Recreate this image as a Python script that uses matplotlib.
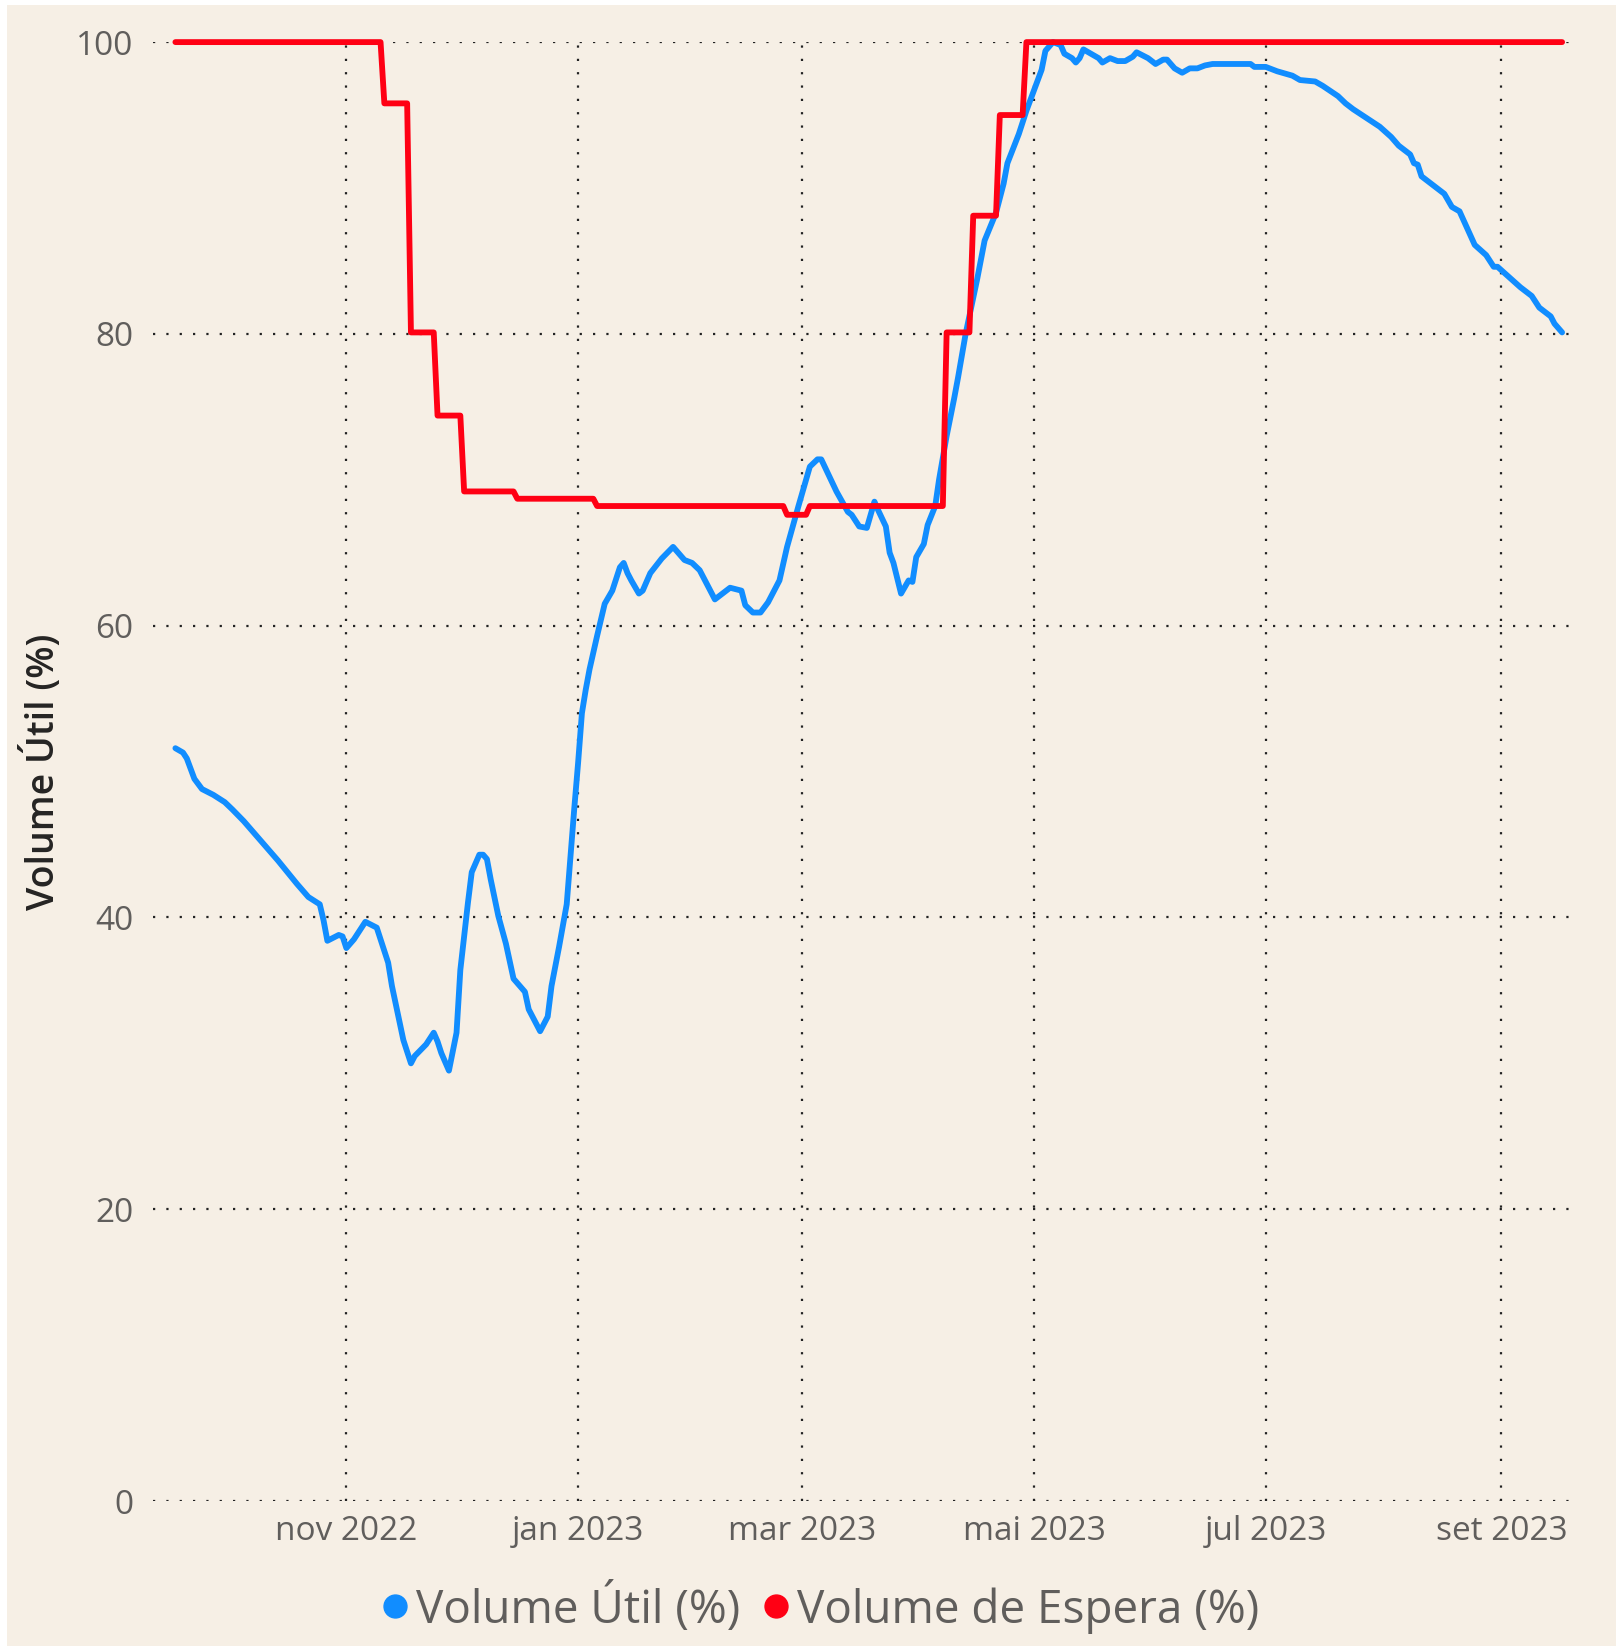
import matplotlib

matplotlib.use("Agg")

import matplotlib.pyplot as plt  # noqa: E402
import pandas as pd  # noqa: E402
from matplotlib.lines import Line2D  # noqa: E402
from matplotlib.patches import Rectangle  # noqa: E402

# Volume Útil (%) - daily reservoir level
util_dates = [
    "2022-09-17", "2022-09-19", "2022-09-20", "2022-09-22", "2022-09-24", "2022-09-27",
    "2022-09-30", "2022-10-02", "2022-10-05", "2022-10-08", "2022-10-14", "2022-10-19",
    "2022-10-22", "2022-10-25", "2022-10-26", "2022-10-27", "2022-10-30", "2022-10-31",
    "2022-11-01", "2022-11-03", "2022-11-06", "2022-11-09", "2022-11-12", "2022-11-13",
    "2022-11-16", "2022-11-18", "2022-11-19", "2022-11-22", "2022-11-24", "2022-11-25",
    "2022-11-26", "2022-11-28", "2022-11-30", "2022-12-01", "2022-12-03", "2022-12-04",
    "2022-12-06", "2022-12-07", "2022-12-08", "2022-12-09", "2022-12-11", "2022-12-13",
    "2022-12-15", "2022-12-18", "2022-12-19", "2022-12-22", "2022-12-24", "2022-12-25",
    "2022-12-27", "2022-12-29", "2022-12-31", "2023-01-01", "2023-01-02", "2023-01-03",
    "2023-01-04", "2023-01-06", "2023-01-08", "2023-01-10", "2023-01-12", "2023-01-13",
    "2023-01-14", "2023-01-15", "2023-01-17", "2023-01-18", "2023-01-20", "2023-01-23",
    "2023-01-26", "2023-01-29", "2023-01-31", "2023-02-02", "2023-02-06", "2023-02-10",
    "2023-02-13", "2023-02-14", "2023-02-16", "2023-02-18", "2023-02-20", "2023-02-23",
    "2023-02-25", "2023-02-28", "2023-03-03", "2023-03-05", "2023-03-06", "2023-03-08",
    "2023-03-10", "2023-03-13", "2023-03-14", "2023-03-16", "2023-03-18", "2023-03-20",
    "2023-03-21", "2023-03-23", "2023-03-24", "2023-03-25", "2023-03-27", "2023-03-29",
    "2023-03-30", "2023-03-31", "2023-04-02", "2023-04-03", "2023-04-05", "2023-04-06",
    "2023-04-08", "2023-04-10", "2023-04-11", "2023-04-13", "2023-04-16", "2023-04-18",
    "2023-04-21", "2023-04-23", "2023-04-24", "2023-04-27", "2023-04-29", "2023-05-01",
    "2023-05-03", "2023-05-04", "2023-05-06", "2023-05-08", "2023-05-09", "2023-05-11",
    "2023-05-12", "2023-05-13", "2023-05-14", "2023-05-16", "2023-05-18", "2023-05-19",
    "2023-05-21", "2023-05-23", "2023-05-25", "2023-05-27", "2023-05-28", "2023-05-31",
    "2023-06-02", "2023-06-04", "2023-06-05", "2023-06-07", "2023-06-09", "2023-06-11",
    "2023-06-13", "2023-06-15", "2023-06-17", "2023-06-27", "2023-06-28", "2023-07-01",
    "2023-07-04", "2023-07-08", "2023-07-10", "2023-07-14", "2023-07-16", "2023-07-20",
    "2023-07-22", "2023-07-24", "2023-07-31", "2023-08-03", "2023-08-05", "2023-08-08",
    "2023-08-09", "2023-08-10", "2023-08-11", "2023-08-14", "2023-08-17", "2023-08-19",
    "2023-08-21", "2023-08-25", "2023-08-28", "2023-08-30", "2023-08-31", "2023-09-06",
    "2023-09-09", "2023-09-11", "2023-09-14", "2023-09-15", "2023-09-17",
]
util_values = [
    51.6, 51.3, 50.9, 49.5, 48.8, 48.4,
    47.9, 47.4, 46.6, 45.7, 43.9, 42.3,
    41.4, 40.9, 39.8, 38.4, 38.8, 38.7,
    37.9, 38.5, 39.7, 39.3, 36.9, 35.3,
    31.6, 30.0, 30.5, 31.3, 32.1, 31.5,
    30.7, 29.5, 32.1, 36.4, 41.0, 43.1,
    44.3, 44.3, 44.0, 42.6, 40.1, 38.2,
    35.8, 34.9, 33.7, 32.2, 33.2, 35.3,
    38.0, 40.9, 47.5, 50.6, 54.0, 55.6,
    57.0, 59.3, 61.5, 62.4, 64.0, 64.3,
    63.6, 63.1, 62.2, 62.4, 63.6, 64.6,
    65.4, 64.5, 64.3, 63.8, 61.8, 62.6,
    62.4, 61.4, 60.9, 60.9, 61.6, 63.1,
    65.4, 68.2, 70.9, 71.4, 71.4, 70.3,
    69.2, 67.8, 67.6, 66.8, 66.7, 68.5,
    67.9, 66.8, 65.0, 64.3, 62.2, 63.1,
    63.0, 64.7, 65.6, 66.9, 68.2, 70.0,
    73.0, 75.6, 77.0, 80.0, 83.7, 86.4,
    88.3, 90.3, 91.7, 93.7, 95.3, 96.7,
    98.1, 99.4, 100.0, 99.8, 99.2, 98.9,
    98.6, 98.9, 99.5, 99.2, 98.9, 98.6,
    98.9, 98.7, 98.7, 99.0, 99.3, 98.9,
    98.5, 98.8, 98.8, 98.2, 97.9, 98.2,
    98.2, 98.4, 98.5, 98.5, 98.3, 98.3,
    98.0, 97.7, 97.4, 97.3, 97.0, 96.3,
    95.8, 95.4, 94.2, 93.5, 92.9, 92.3,
    91.7, 91.6, 90.8, 90.2, 89.6, 88.7,
    88.4, 86.1, 85.4, 84.6, 84.6, 83.2,
    82.6, 81.8, 81.2, 80.7, 80.1,
]

# Volume de Espera (%) - step series, change points only
espera_dates = [
    "2022-09-17", "2022-11-10", "2022-11-11", "2022-11-17", "2022-11-18", "2022-11-24",
    "2022-11-25", "2022-12-01", "2022-12-02", "2022-12-15", "2022-12-16", "2023-01-05",
    "2023-01-06", "2023-02-24", "2023-02-25", "2023-03-02", "2023-03-03", "2023-04-07",
    "2023-04-08", "2023-04-14", "2023-04-15", "2023-04-21", "2023-04-22", "2023-04-28",
    "2023-04-29", "2023-09-17",
]
espera_values = [
    100.0, 100.0, 95.8, 95.8, 80.1, 80.1,
    74.4, 74.4, 69.2, 69.2, 68.7, 68.7,
    68.2, 68.2, 67.6, 67.6, 68.2, 68.2,
    80.1, 80.1, 88.1, 88.1, 95.0, 95.0,
    100.0, 100.0,
]

tick_dates = ["2022-11-01", "2023-01-01", "2023-03-01", "2023-05-01", "2023-07-01", "2023-09-01"]
tick_labels = ["nov 2022", "jan 2023", "mar 2023", "mai 2023", "jul 2023", "set 2023"]
y_ticks = [0, 20, 40, 60, 80, 100]

BG = "#F6EFE5"
BLUE = "#118DFF"
RED = "#FF0014"
GREY = "#605E5C"

plt.rcParams["font.family"] = ["Open Sans", "DejaVu Sans"]

W, H = 1623, 1650
fig = plt.figure(figsize=(W / 100, H / 100), dpi=100, facecolor="white")
fig.patches.append(Rectangle((7 / W, 4 / H), (W - 14) / W, (H - 9) / H,
                             transform=fig.transFigure, facecolor=BG, edgecolor="none", zorder=-5))

ax = fig.add_axes([152.6 / W, 1 - 1501 / H, (1573.5 - 152.6) / W, (1501 - 42.1) / H])
ax.set_facecolor(BG)
ax.patch.set_alpha(0)

ud = pd.to_datetime(util_dates)
ed = pd.to_datetime(espera_dates)
ax.plot(ud, util_values, color=BLUE, linewidth=4.2, solid_joinstyle="round",
        solid_capstyle="round", clip_on=False, zorder=3)
ax.plot(ed, espera_values, color=RED, linewidth=4.2, solid_joinstyle="round",
        solid_capstyle="round", clip_on=False, zorder=4)

ax.set_ylim(0, 100)
ax.set_xlim(pd.Timestamp("2022-09-11"), pd.Timestamp("2023-09-20"))
ax.set_yticks(y_ticks)
ax.set_yticklabels([str(v) for v in y_ticks])
ax.set_xticks(pd.to_datetime(tick_dates))
ax.set_xticklabels(tick_labels)

# dotted grid, ~12 px pitch
ax.grid(True, color="#222222", linestyle=(0, (1, 5)), linewidth=1.6)
ax.set_axisbelow(True)
for s in ax.spines.values():
    s.set_visible(False)
ax.tick_params(axis="both", length=0, labelsize=24, labelcolor=GREY)
ax.tick_params(axis="y", pad=14)
ax.tick_params(axis="x", pad=10)

ax.set_ylabel("Volume Útil (%)", fontsize=27, color="#252423", fontweight="semibold")
ax.yaxis.set_label_coords(-0.063, 0.5)

handles = [
    Line2D([], [], marker="o", linestyle="none", markersize=16.5, color=BLUE),
    Line2D([], [], marker="o", linestyle="none", markersize=16.5, color=RED),
]
fig.legend(handles, ["Volume Útil (%)", "Volume de Espera (%)"], loc="center",
           bbox_to_anchor=(0.504, 1 - 1608 / H), ncol=2, frameon=False, fontsize=33,
           labelcolor=GREY, handletextpad=0.05, columnspacing=0.4, handlelength=0.8,
           borderaxespad=0)

fig.savefig("out.png", dpi=100, facecolor=fig.get_facecolor())
